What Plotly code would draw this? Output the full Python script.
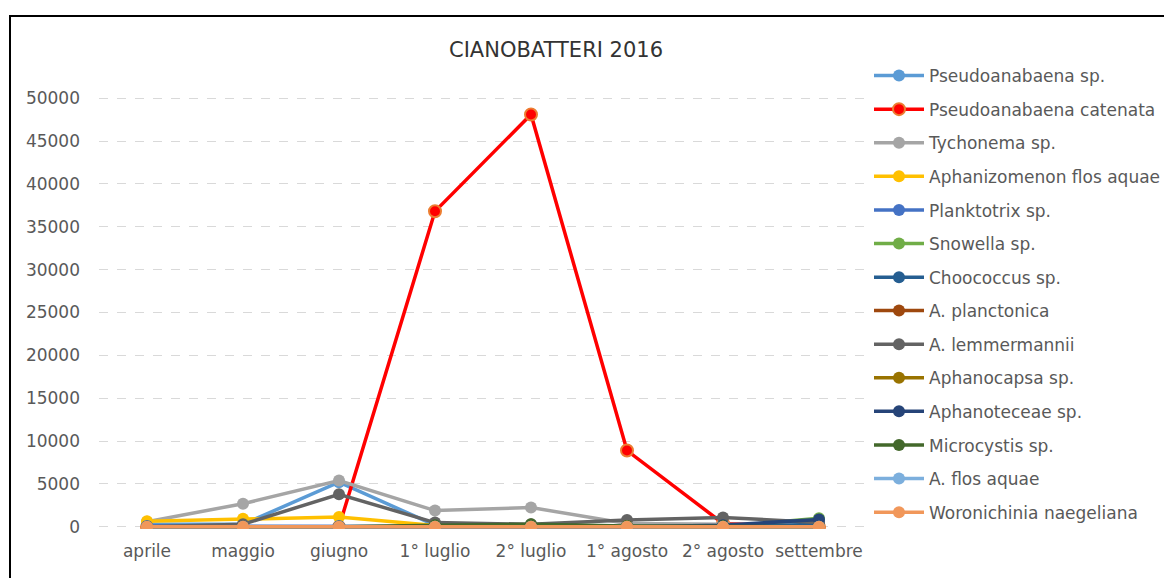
import plotly.graph_objects as go

categories = ["aprile", "maggio", "giugno", "1° luglio", "2° luglio", "1° agosto", "2° agosto", "settembre"]

pseudoanabaena_sp = [300, 300, 5200, 200, 50, 0, 0, 0]
pseudoanabaena_catenata = [0, 0, 0, 36800, 48100, 8900, 400, 0]
tychonema_sp = [600, 2700, 5400, 1900, 2250, 400, 300, 200]
aphanizomenon_flos_aquae = [650, 950, 1150, 150, 50, 0, 0, 0]
planktotrix_sp = [100, 100, 100, 100, 0, 0, 0, 0]
snowella_sp = [0, 0, 0, 0, 0, 0, 0, 1000]
choococcus_sp = [0, 0, 0, 0, 0, 0, 0, 300]
a_planctonica = [0, 0, 0, 0, 0, 0, 0, 0]
a_lemmermannii = [0, 300, 3800, 500, 300, 800, 1100, 500]
aphanocapsa_sp = [0, 0, 0, 100, 100, 100, 0, 0]
aphanoteceae_sp = [0, 0, 0, 0, 0, 0, 200, 850]
microcystis_sp = [0, 0, 0, 200, 300, 100, 100, 0]
a_flos_aquae = [0, 0, 0, 0, 0, 0, 0, 0]
woronichinia_naegeliana = [0, 0, 0, 0, 0, 0, 0, 0]

series = [
    ("Pseudoanabaena sp.", pseudoanabaena_sp, "#5B9BD5", "#5B9BD5"),
    ("Pseudoanabaena catenata", pseudoanabaena_catenata, "#FF0000", "#ED7D31"),
    ("Tychonema sp.", tychonema_sp, "#A5A5A5", "#A5A5A5"),
    ("Aphanizomenon flos aquae", aphanizomenon_flos_aquae, "#FFC000", "#FFC000"),
    ("Planktotrix sp.", planktotrix_sp, "#4472C4", "#4472C4"),
    ("Snowella sp.", snowella_sp, "#70AD47", "#70AD47"),
    ("Choococcus sp.", choococcus_sp, "#255E91", "#255E91"),
    ("A. planctonica", a_planctonica, "#9E480E", "#9E480E"),
    ("A. lemmermannii", a_lemmermannii, "#636363", "#636363"),
    ("Aphanocapsa sp.", aphanocapsa_sp, "#997300", "#997300"),
    ("Aphanoteceae sp.", aphanoteceae_sp, "#264478", "#264478"),
    ("Microcystis sp.", microcystis_sp, "#43682B", "#43682B"),
    ("A. flos aquae", a_flos_aquae, "#7CAFDD", "#7CAFDD"),
    ("Woronichinia naegeliana", woronichinia_naegeliana, "#F1975A", "#F1975A"),
]

fig = go.Figure()
for i, (name, vals, color, edge) in enumerate(series):
    fig.add_trace(go.Scatter(
        x=categories, y=vals, name=name, mode="lines+markers",
        legendgroup=name,
        legend="legend" if i < 7 else "legend2",
        line=dict(color=color, width=3.5),
        marker=dict(size=12, color=color, line=dict(color=edge, width=2 if edge != color else 0)),
    ))

FONT = "DejaVu Sans"
W, H = 1164, 578
# plot area: top 96 px, bottom 529 px (433 px), left 99 px, right 867 px
leg_common = dict(xref="container", yref="container", xanchor="left", yanchor="top",
                  traceorder="grouped", tracegroupgap=8.5, itemwidth=50, borderwidth=0,
                  font=dict(family=FONT, size=17, color="#595959"), bgcolor="rgba(0,0,0,0)")
fig.update_layout(
    width=W, height=H,
    margin=dict(l=99, r=297, t=96, b=49, autoexpand=False),
    paper_bgcolor="white", plot_bgcolor="white",
    font=dict(family=FONT, color="#595959", size=17),
    title=dict(text="CIANOBATTERI 2016", x=556 / W, xanchor="center", y=1 - 50 / H, yanchor="middle",
               font=dict(family=FONT, size=21, color="#333333")),
    showlegend=True,
    legend=dict(x=869 / W, y=1 - 58 / H, **leg_common),
    legend2=dict(x=869 / W, y=1 - 293 / H, **leg_common),
    xaxis=dict(type="category", range=[-0.5, 7.5], showgrid=False, showline=False, zeroline=False,
               ticks="", tickfont=dict(family=FONT, size=17, color="#595959"), ticklabelstandoff=10,
               automargin=False),
    yaxis=dict(range=[-250, 50250], tickvals=[0, 5000, 10000, 15000, 20000, 25000, 30000, 35000, 40000, 45000, 50000],
               showgrid=True, gridcolor="#D9D9D9", griddash="dash",
               gridwidth=1, zeroline=False, showline=False, ticks="",
               tickfont=dict(family=FONT, size=17, color="#595959"), ticklabelstandoff=18,
               tickformat="d", automargin=False),
    shapes=[dict(type="rect", xref="paper", yref="paper",
                 x0=(10 - 99) / 768, x1=1.6, y0=-0.3, y1=(529 - 16) / 433,
                 line=dict(color="black", width=2), fillcolor="rgba(0,0,0,0)", layer="below")],
)

fig.write_html("out.html", config={"displayModeBar": False},
               post_script="document.body.style.margin='0px';document.body.style.overflow='hidden';")
